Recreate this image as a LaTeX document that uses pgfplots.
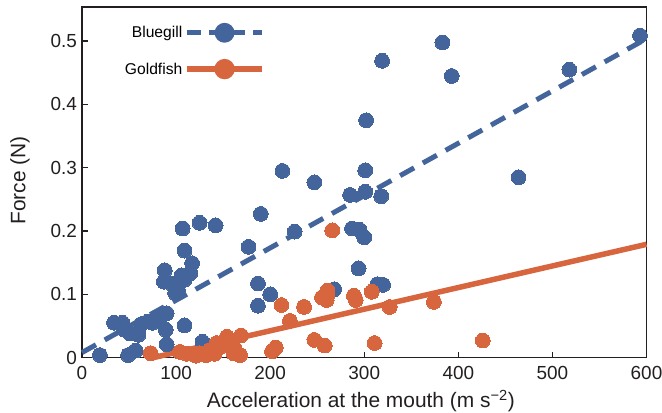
\documentclass[border=0pt]{standalone}
\usepackage{fontspec}
\setmainfont{Liberation Sans}
\usepackage{pgfplots}
\pgfplotsset{compat=1.18}
\definecolor{bg}{RGB}{68,101,155}
\definecolor{gf}{RGB}{215,101,62}
\definecolor{axc}{RGB}{35,31,32}

\pgfplotstableread{
x y
19 0.004
49 0.004
57 0.011
34 0.055
43 0.055
45 0.044
51 0.038
60 0.036
63 0.053
70 0.057
75 0.055
83 0.063
90 0.070
89 0.044
90 0.021
88 0.138
87 0.120
95 0.117
99 0.102
102 0.107
106 0.130
109 0.123
115 0.133
117 0.149
109 0.169
107 0.204
125 0.213
142 0.209
109 0.051
128 0.025
177 0.175
190 0.227
187 0.117
187 0.082
200 0.100
226 0.199
268 0.108
213 0.295
383 0.498
319 0.469
393 0.445
302 0.375
301 0.296
247 0.277
285 0.257
301 0.262
318 0.255
287 0.204
295 0.202
300 0.190
294 0.141
314 0.116
320 0.115
518 0.455
464 0.285
593 0.509
}\bluegill

\pgfplotstableread{
x y
73 0.007
104 0.009
111 0.006
121 0.003
125 0.007
132 0.004
136 0.012
141 0.006
143 0.023
147 0.017
154 0.033
159 0.020
161 0.007
162 0.015
168 0.004
169 0.035
202 0.010
206 0.016
212 0.083
221 0.058
236 0.080
247 0.028
258 0.019
255 0.095
261 0.099
261 0.106
260 0.091
266 0.201
289 0.098
291 0.091
308 0.104
327 0.080
374 0.088
426 0.027
311 0.023
}\goldfish

\begin{document}
\begin{tikzpicture}
\begin{axis}[
  scale only axis, width=564.5bp, height=350.6bp,
  xmin=0, xmax=600, ymin=0, ymax=0.554,
  xtick={0,100,200,300,400,500,600},
  ytick={0,0.1,0.2,0.3,0.4,0.5},
  yticklabels={0,0.1,0.2,0.3,0.4,0.5},
  tick align=inside, tick pos=left,
  major tick length=6bp,
  axis line style={line width=1.6bp, draw=axc},
  every tick/.style={line width=1.4bp, axc},
  tick label style={font=\fontsize{19}{22}\selectfont, text=axc, inner sep=1bp},
  yticklabel style={xshift=-3.8bp},
  xticklabel style={yshift=-7.8bp},
  /pgf/number format/assume math mode=true,
  label style={font=\fontsize{21}{24}\selectfont, text=axc},
  xlabel={Acceleration at the mouth (m s\textsuperscript{−2})},
  ylabel={Force (N)},
  xlabel style={at={(axis description cs:0.494,-0.124)}, anchor=center},
  ylabel style={at={(axis description cs:-0.11,0.505)}, anchor=center},
  clip=false,
  legend style={draw=none, fill=none, legend plot pos=right,
    font=\fontsize{15.7}{18}\selectfont,
    at={(axis description cs:0.3242,0.951)}, anchor=north east,
    inner sep=0pt, row sep=19.5bp, legend cell align=right},
  legend image code/.code={\draw[mark repeat=2,mark phase=2,#1] plot coordinates {(0bp,0bp) (37.5bp,0bp) (75bp,0bp)};},
]
\addlegendimage{bg, line width=5bp, dash pattern=on 14bp off 8bp, mark=*, mark size=7.4bp, mark options={solid, bg}}
\addlegendentry{Bluegill}
\addlegendimage{gf, line width=5.5bp, mark=*, mark size=7.4bp, mark options={solid, gf}}
\addlegendentry{Goldfish}

\addplot[bg, only marks, mark=*, mark size=7.4bp, mark options={bg, line width=0pt}, forget plot] table[x=x, y=y] {\bluegill};
\addplot[gf, only marks, mark=*, mark size=7.4bp, mark options={gf, line width=0pt}, forget plot] table[x=x, y=y] {\goldfish};
\addplot[bg, line width=5bp, dash pattern=on 16bp off 10bp, forget plot] coordinates {(0,0.008) (600,0.504)};
\addplot[gf, line width=5.5bp, forget plot] coordinates {(76,0) (600,0.179)};
\end{axis}
\pgfresetboundingbox
\path ([shift={(-82bp,-54.4bp)}]current axis.south west) rectangle ([shift={(15.5bp,7bp)}]current axis.north east);
\end{tikzpicture}
\end{document}
